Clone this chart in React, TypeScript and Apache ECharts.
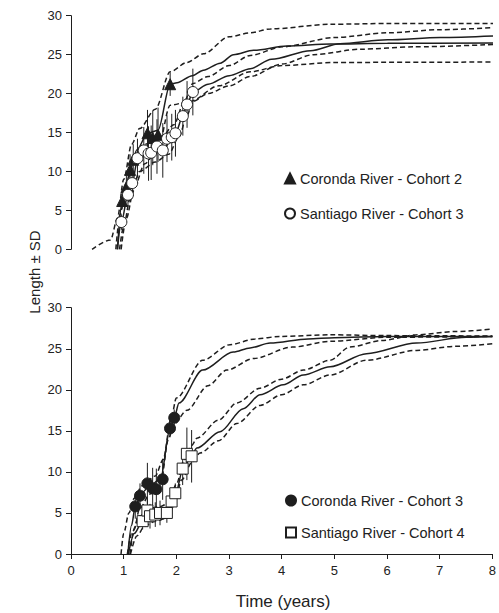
import React, { useEffect, useRef } from "react";
import * as echarts from "echarts";

// ---------- DATA ----------
// Top panel: Coronda River - Cohort 2 (triangles) [time, length, sd]
const coronda2Points: number[][] = [
  [0.97, 6.2, 1.0], [1.05, 8.0, 1.5], [1.12, 10.2, 2.0], [1.18, 11.5, 2.0],
  [1.45, 14.9, 3.0], [1.55, 14.3, 3.5], [1.65, 14.7, 3.5], [1.88, 21.2, 1.5],
];
const coronda2Mean: number[][] = [
  [0.88, 0], [0.97, 6.2], [1.05, 8.3], [1.12, 10.2], [1.25, 12.8], [1.45, 14.9], [1.65, 15.3],
  [1.88, 21.2], [2.01, 21.4], [2.3, 22.3], [2.51, 23.0], [2.83, 23.9], [3.08, 25.0], [3.46, 25.55],
  [4.09, 26.1], [4.92, 26.35], [6, 26.45], [8, 26.5],
];
const coronda2Upper: number[][] = [
  [0.4, 0], [0.75, 1.2], [0.88, 4], [1.0, 9], [1.15, 13.5], [1.3, 15.5], [1.6, 18], [1.88, 22.8],
  [2.2, 24.0], [2.51, 25.1], [3.0, 27.3], [3.4, 27.8], [3.78, 28.3], [4.92, 28.9], [6, 29.0], [8, 29.0],
];
const coronda2Lower: number[][] = [
  [0.95, 0], [1.05, 4], [1.2, 8], [1.4, 11], [1.65, 13], [1.88, 18.5], [2.26, 19.0], [2.8, 21.0],
  [3.4, 22.8], [4.0, 23.6], [5, 24.0], [8, 24.05],
];

// Top panel: Santiago River - Cohort 3 (open circles)
const santiago3Points: number[][] = [
  [0.955, 3.5, 1.0], [1.08, 7.0, 1.5], [1.16, 8.5, 2.0], [1.26, 11.7, 2.5], [1.38, 12.7, 3.0],
  [1.47, 12.3, 3.5], [1.52, 12.4, 3.5], [1.63, 13.2, 3.5], [1.74, 12.7, 3.5], [1.82, 14.2, 3.0],
  [1.91, 14.4, 3.0], [1.98, 14.9, 3.0], [2.12, 17.1, 2.5], [2.2, 18.6, 3.0], [2.31, 20.2, 3.0],
];
const santiago3Mean: number[][] = [
  [0.88, 0], [0.955, 3.5], [1.08, 7.0], [1.16, 8.5], [1.26, 11.5], [1.5, 12.4], [1.75, 12.9],
  [1.98, 14.9], [2.12, 17.1], [2.2, 18.6], [2.31, 20.2], [2.6, 21.2], [3.0, 22.3], [3.4, 23.2],
  [3.8, 24.4], [4.54, 25.5], [5.1, 26.4], [6, 26.9], [7, 27.2], [8, 27.4],
];
const santiago3Upper: number[][] = [
  [0.85, 0], [0.93, 4.5], [1.05, 8.5], [1.2, 11.5], [1.4, 13.5], [1.7, 14.2], [1.95, 16.0],
  [2.15, 19.0], [2.31, 21.3], [2.6, 22.2], [3.0, 23.6], [3.4, 24.9], [4.0, 26.0], [5.0, 27.2],
  [6, 27.8], [7, 28.2], [8, 28.46],
];
const santiago3Lower: number[][] = [
  [0.92, 0], [1.0, 3.0], [1.12, 6.5], [1.3, 10], [1.6, 11.2], [1.85, 12.2], [2.05, 14.5],
  [2.2, 17.2], [2.31, 19.0], [2.6, 20.0], [3.0, 21.0], [3.4, 22.2], [4.0, 23.8], [4.6, 25.0],
  [5.5, 25.7], [6.5, 26.0], [8, 26.3],
];

// Bottom panel: Coronda River - Cohort 3 (filled circles)
const coronda3Points: number[][] = [
  [1.22, 5.8, 1.5], [1.31, 7.1, 1.5], [1.45, 8.6, 2.5], [1.55, 8.0, 2.5], [1.62, 7.9, 2.5],
  [1.74, 9.1, 2.5], [1.88, 15.3, 1.0], [1.96, 16.6, 1.0],
];
const coronda3Mean: number[][] = [
  [1.08, 0], [1.15, 3.5], [1.22, 5.8], [1.35, 7.5], [1.5, 8.3], [1.7, 9.2], [1.88, 15.3],
  [1.96, 16.6], [2.05, 18.4], [2.5, 22.4], [3.08, 24.6], [3.4, 25.1], [3.78, 25.7], [4.5, 26.2],
  [5, 26.35], [6, 26.5], [8, 26.5],
];
const coronda3Upper: number[][] = [
  [0.95, 0], [1.0, 2.5], [1.1, 5.0], [1.2, 6.8], [1.35, 8.3], [1.6, 9.5], [1.75, 11.5], [1.9, 16.5],
  [2.0, 19.0], [2.5, 23.6], [3.02, 25.5], [3.5, 26.2], [3.97, 26.5], [4.92, 26.7], [6, 26.6], [8, 26.55],
];
const coronda3Lower: number[][] = [
  [1.12, 0], [1.2, 3.0], [1.3, 5.5], [1.5, 7.3], [1.7, 8.5], [1.85, 14], [1.95, 15.8], [2.2, 17.5],
  [2.6, 20.5], [2.96, 22.4], [3.46, 23.8], [4.2, 25.2], [4.92, 25.9], [6, 26.4], [8, 26.5],
];

// Bottom panel: Santiago River - Cohort 4 (open squares)
const santiago4Points: number[][] = [
  [1.36, 4.0, 1.0], [1.45, 5.3, 1.5], [1.5, 4.6, 1.5], [1.6, 4.8, 1.5], [1.69, 5.0, 1.5],
  [1.82, 5.0, 1.2], [1.91, 6.4, 1.2], [1.98, 7.4, 1.2], [2.12, 10.4, 2.0], [2.2, 12.2, 3.2],
  [2.29, 11.9, 3.2],
];
const santiago4Mean: number[][] = [
  [1.09, 0], [1.2, 2.5], [1.36, 4.0], [1.5, 4.6], [1.7, 5.0], [1.85, 5.2], [1.98, 7.2], [2.12, 10.2],
  [2.29, 12.0], [2.39, 12.9], [2.83, 14.9], [3.27, 17.7], [3.59, 19.4], [4.03, 20.6], [4.41, 21.8],
  [4.92, 22.8], [5.61, 24.4], [6.56, 25.7], [7.5, 26.4], [8, 26.5],
];
const santiago4Upper: number[][] = [
  [1.07, 0], [1.15, 2.5], [1.3, 4.6], [1.5, 5.6], [1.7, 5.8], [1.85, 6.2], [2.0, 8.5], [2.15, 11.5],
  [2.29, 13.2], [2.39, 14.1], [2.8, 16.3], [3.15, 18.4], [3.59, 20.2], [4.0, 21.3], [4.41, 22.4],
  [4.92, 23.6], [5.29, 25.2], [5.9, 26.0], [6.56, 26.7], [7.3, 27.1], [8, 27.4],
];
const santiago4Lower: number[][] = [
  [1.13, 0], [1.25, 2.2], [1.4, 3.4], [1.6, 4.0], [1.8, 4.3], [1.95, 5.8], [2.1, 9.0], [2.3, 11.2],
  [2.45, 12.3], [2.8, 13.8], [3.15, 15.9], [3.59, 18.1], [4.0, 19.4], [4.41, 20.6], [4.92, 21.8],
  [5.61, 23.6], [6.56, 24.8], [7.3, 25.3], [8, 25.6],
];

const xTicks = [0, 1, 2, 3, 4, 5, 6, 7, 8];
const yTicks = [0, 5, 10, 15, 20, 25, 30];
const legendTop = ["Coronda River - Cohort 2", "Santiago River - Cohort 3"];
const legendBottom = ["Coronda River - Cohort 3", "Santiago River - Cohort 4"];
const xTitle = "Time (years)";
const yTitle = "Length ± SD";

// ---------- CHART ----------
const INK = "#1e1e1e";
const FONT = "'Liberation Sans', Arial, sans-serif";

function lineSeries(data: number[][], idx: number, dashed: boolean) {
  return {
    type: "line",
    xAxisIndex: idx,
    yAxisIndex: idx,
    data,
    showSymbol: false,
    symbol: "none",
    smooth: 0.3,
    smoothMonotone: "x",
    silent: true,
    lineStyle: { color: INK, width: 1.5, type: dashed ? [5, 3] : "solid" },
    z: 2,
  };
}

function errSeries(points: number[][], idx: number) {
  return {
    type: "custom",
    xAxisIndex: idx,
    yAxisIndex: idx,
    silent: true,
    data: points.map((p) => [p[0], p[1] - p[2], p[1] + p[2]]),
    encode: { x: 0, y: [1, 2] },
    renderItem: (params: any, api: any) => {
      const a = api.coord([api.value(0), api.value(1)]);
      const b = api.coord([api.value(0), api.value(2)]);
      return {
        type: "line",
        shape: { x1: a[0], y1: a[1], x2: b[0], y2: b[1] },
        style: { stroke: INK, lineWidth: 1 },
      };
    },
    z: 3,
  };
}

function markerSeries(name: string, points: number[][], idx: number, symbol: string, filled: boolean, size: number) {
  return {
    name,
    type: "scatter",
    xAxisIndex: idx,
    yAxisIndex: idx,
    symbol,
    symbolSize: size,
    data: points.map((p) => [p[0], p[1]]),
    itemStyle: filled
      ? { color: INK, borderColor: INK, borderWidth: 1, opacity: 1 }
      : { color: "#ffffff", borderColor: INK, borderWidth: 1, opacity: 1 },
    emphasis: { disabled: true },
    z: 5,
  };
}

function yAxis(idx: number) {
  return {
    type: "value",
    gridIndex: idx,
    min: yTicks[0],
    max: yTicks[yTicks.length - 1],
    interval: 5,
    axisLine: { show: true, lineStyle: { color: INK, width: 1 } },
    axisTick: { show: true, inside: false, length: 5, lineStyle: { color: INK } },
    splitLine: { show: false },
    axisLabel: { fontSize: 13, color: "#222", fontFamily: FONT, margin: 9 },
  };
}

export default function App() {
  const ref = useRef<HTMLDivElement>(null);
  useEffect(() => {
    if (!ref.current) return;
    const chart = echarts.init(ref.current, undefined, { renderer: "svg" });
    const legendText = { fontSize: 14.5, color: "#222", fontFamily: FONT, lineHeight: 14 };
    chart.setOption({
      animation: false,
      backgroundColor: "#ffffff",
      grid: [
        { left: 71, top: 15.7, width: 422, height: 233.6 },
        { left: 71, top: 307.7, width: 422, height: 246.3 },
      ],
      xAxis: [
        { type: "value", gridIndex: 0, min: 0, max: 8, interval: 1, show: false },
        {
          type: "value",
          gridIndex: 1,
          min: xTicks[0],
          max: xTicks[xTicks.length - 1],
          interval: 1,
          axisLine: { show: true, onZero: false, lineStyle: { color: INK, width: 1 } },
          axisTick: { show: true, inside: false, length: 5, lineStyle: { color: INK } },
          splitLine: { show: false },
          axisLabel: { fontSize: 13, color: "#222", fontFamily: FONT, margin: 10 },
        },
      ],
      yAxis: [yAxis(0), yAxis(1)],
      legend: [
        {
          left: 279,
          top: 166,
          orient: "vertical",
          itemGap: 20,
          itemWidth: 10,
          itemHeight: 10,
          textStyle: legendText,
          selectedMode: false,
          data: legendTop,
        },
        {
          left: 280,
          top: 488,
          orient: "vertical",
          itemGap: 17,
          itemWidth: 10,
          itemHeight: 10,
          textStyle: legendText,
          selectedMode: false,
          data: legendBottom,
        },
      ],
      graphic: [
        {
          type: "text",
          x: 283,
          y: 601,
          style: {
            text: xTitle,
            align: "center",
            verticalAlign: "middle",
            fontSize: 17,
            fontFamily: FONT,
            fill: "#222",
          },
        },
        {
          type: "text",
          x: 34,
          y: 272,
          rotation: Math.PI / 2,
          style: {
            text: yTitle,
            align: "center",
            verticalAlign: "middle",
            fontSize: 15,
            fontFamily: FONT,
            fill: "#222",
          },
        },
      ],
      series: [
        lineSeries(coronda2Mean, 0, false),
        lineSeries(coronda2Upper, 0, true),
        lineSeries(coronda2Lower, 0, true),
        lineSeries(santiago3Mean, 0, false),
        lineSeries(santiago3Upper, 0, true),
        lineSeries(santiago3Lower, 0, true),
        errSeries(coronda2Points, 0),
        errSeries(santiago3Points, 0),
        markerSeries(legendTop[0], coronda2Points, 0, "triangle", true, 11),
        markerSeries(legendTop[1], santiago3Points, 0, "circle", false, 11),

        lineSeries(coronda3Mean, 1, false),
        lineSeries(coronda3Upper, 1, true),
        lineSeries(coronda3Lower, 1, true),
        lineSeries(santiago4Mean, 1, false),
        lineSeries(santiago4Upper, 1, true),
        lineSeries(santiago4Lower, 1, true),
        errSeries(coronda3Points, 1),
        errSeries(santiago4Points, 1),
        markerSeries(legendBottom[0], coronda3Points, 1, "circle", true, 11),
        markerSeries(legendBottom[1], santiago4Points, 1, "rect", false, 11),
      ],
    });
    return () => chart.dispose();
  }, []);
  return (
    <div
      ref={ref}
      style={{ position: "fixed", left: 0, top: 0, width: 499, height: 613, background: "#fff" }}
    />
  );
}
